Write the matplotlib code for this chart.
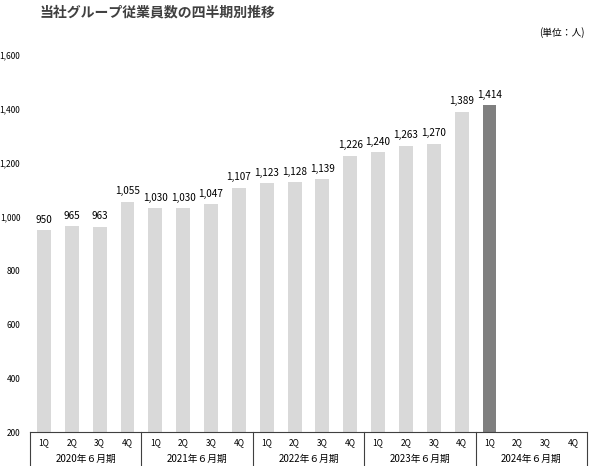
import numpy as np
import matplotlib
matplotlib.use("Agg")
import matplotlib.pyplot as plt

plt.rcParams['font.family'] = ['Noto Sans CJK JP', 'DejaVu Sans']

quarters = ['1Q', '2Q', '3Q', '4Q'] * 5
years = ['2020年６月期', '2021年６月期', '2022年６月期', '2023年６月期', '2024年６月期']
employees = [950, 965, 963, 1055, 1030, 1030, 1047, 1107, 1123, 1128, 1139, 1226,
             1240, 1263, 1270, 1389, 1414]
yticks = [200, 400, 600, 800, 1000, 1200, 1400, 1600]

fig = plt.figure(figsize=(5.89, 4.66), dpi=100)
ax = fig.add_axes([30 / 589, 34 / 466, 557 / 589, 377 / 466])

x = np.arange(len(quarters))
colors = ['#d9d9d9'] * (len(employees) - 1) + ['#7f7f7f']
ax.bar(x[:len(employees)], np.array(employees) - 200, bottom=200, width=0.5, color=colors)

for xi, v in zip(x, employees):
    ax.text(xi, v + 20, f'{v:,}', ha='center', va='bottom', fontsize=7.2)

ax.set_xlim(-0.5, len(quarters) - 0.5)
ax.set_ylim(200, 1600)
ax.set_yticks(yticks)
ax.set_yticklabels([f'{t:,}' for t in yticks], fontsize=6)
ax.tick_params(axis='y', length=0, pad=7)
ax.set_xticks([])
for s in ['top', 'right', 'left']:
    ax.spines[s].set_visible(False)
ax.spines['bottom'].set_color('#404040')
ax.spines['bottom'].set_linewidth(0.8)

# category box under the axis
trans = ax.get_xaxis_transform()
for k in range(len(years) + 1):
    ax.plot([k * 4 - 0.5] * 2, [0, -34 / 377], transform=trans, color='#404040',
            lw=0.8, clip_on=False)
for xi, q in zip(x, quarters):
    ax.text(xi, -11 / 377, q, transform=trans, ha='center', va='center', fontsize=6)
for k, yr in enumerate(years):
    ax.text(k * 4 + 1.5, -27 / 377, yr, transform=trans, ha='center', va='center', fontsize=7)

fig.text(40 / 589, 1 - 12 / 466, '当社グループ従業員数の四半期別推移', ha='left', va='center',
         fontsize=10, fontweight='bold', color='#404040')
fig.text(585 / 589, 1 - 33 / 466, '(単位：人)', ha='right', va='center', fontsize=7)

fig.savefig('out.png', dpi=100)
